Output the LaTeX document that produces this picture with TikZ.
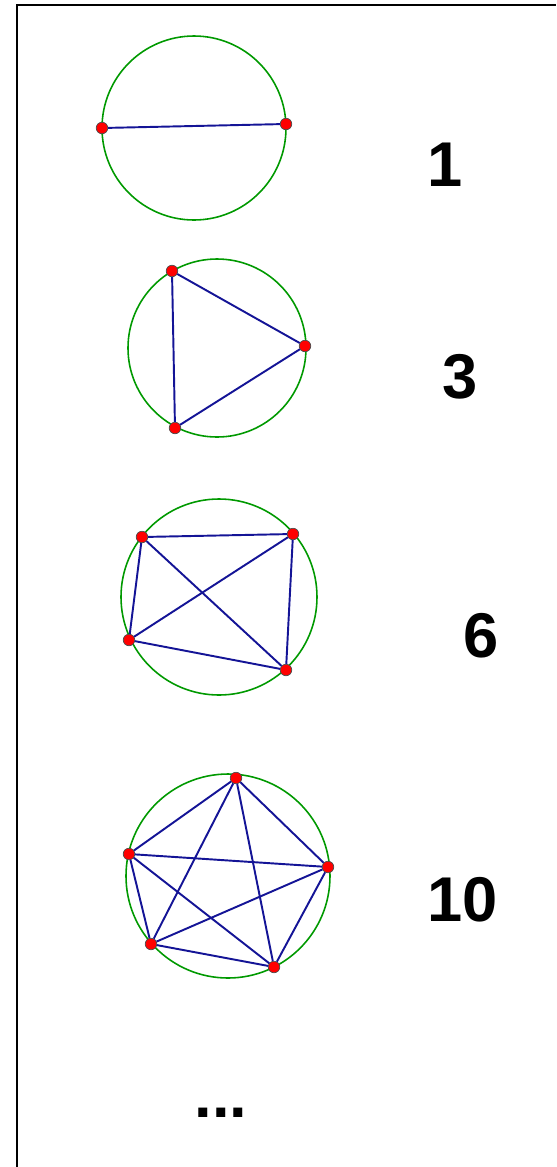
\documentclass[tikz,border=0pt]{standalone}
\usepackage{fontspec}
\setmainfont{Liberation Sans}
\usepackage{tikz}

\definecolor{ringgreen}{RGB}{0,153,0}
\definecolor{chordblue}{RGB}{20,20,150}
\tikzset{
  ring/.style={draw=ringgreen, line width=0.9pt},
  chord/.style={draw=chordblue, line width=1.1pt},
  pt/.style={circle, fill=red, draw=black!70, line width=0.4pt, inner sep=0pt, minimum size=2.3mm},
  count/.style={font=\fontsize{36}{40}\selectfont\bfseries}
}

\begin{document}
\begin{tikzpicture}[x=0.02cm, y=-0.02cm]
    \useasboundingbox (0,0) rectangle (556,1167);
    \draw[line width=1.7pt] (17,1167) -- (17,5) -- (556,5);
    % two points
    \draw[ring] (194,128) circle (92);
    \node[pt] (a1) at (102,128) {}; \node[pt] (a2) at (286,124) {};
    \draw[chord] (a1) -- (a2);
    \node[count] (n1) at (445,165) {1};
    % three points
    \draw[ring] (217,348) circle (89);
    \node[pt] (b1) at (172,271) {}; \node[pt] (b2) at (305,346) {};
    \node[pt] (b3) at (175,428) {};
    \draw[chord] (b1) -- (b2) -- (b3) -- (b1);
    \node[count] (n3) at (460,377) {3};
    % four points
    \draw[ring] (219,597) circle (98);
    \node[pt] (c1) at (142,537) {}; \node[pt] (c2) at (293,534) {};
    \node[pt] (c3) at (129,640) {}; \node[pt] (c4) at (286,670) {};
    \draw[chord] (c1) -- (c2) -- (c4) -- (c3) -- (c1);
    \draw[chord] (c1) -- (c4); \draw[chord] (c2) -- (c3);
    \node[count] (n6) at (481,636) {6};
    % five points
    \draw[ring] (228,876) circle (102);
    \node[pt] (d1) at (236,778) {}; \node[pt] (d2) at (328,867) {};
    \node[pt] (d3) at (274,967) {}; \node[pt] (d4) at (151,944) {};
    \node[pt] (d5) at (129,854) {};
    \foreach \i/\j in {1/2,1/3,1/4,1/5,2/3,2/4,2/5,3/4,3/5,4/5}
        \draw[chord] (d\i) -- (d\j);
    \node[count] (n10) at (463,900) {10};
    \node[count, anchor=base] (more) at (221,1117) {...};
\end{tikzpicture}
\end{document}
